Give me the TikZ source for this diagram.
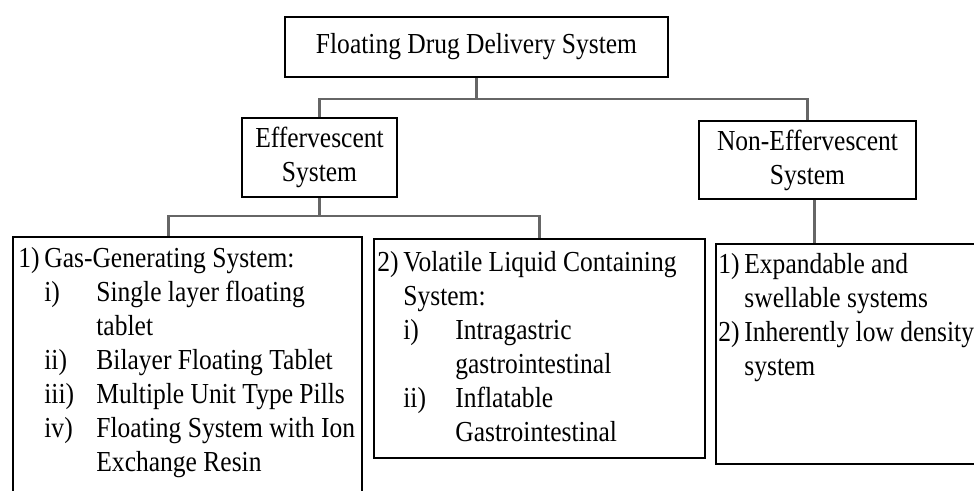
\documentclass[tikz,border=0pt]{standalone}
\usepackage{fontspec}
\setmainfont[FakeStretch=0.88]{Liberation Serif}
\usepackage{array}
\usetikzlibrary{positioning,calc}

\begin{document}
\begin{tikzpicture}[x=0.5pt, y=-0.5pt, font=\fontsize{14.5}{17}\selectfont]

% Define styles
\tikzstyle{mainbox} = [rectangle, draw=black, line width=1pt, fill=white, inner sep=0pt, align=center, anchor=north west]
\tikzstyle{listbox} = [rectangle, draw=black, line width=1pt, fill=white, inner sep=0pt, anchor=north west]
\tikzstyle{listtext} = [inner sep=0pt, anchor=north west]
\tikzstyle{conn} = [line width=1.1pt, draw=black!60]

\useasboundingbox (0,0) rectangle (974,491);
\clip (0,0) rectangle (974,491);

% TOP
\node (fdds) [mainbox, minimum width=191.5pt, minimum height=30pt] at (284,16) {Floating Drug Delivery System};

% SECOND LEVEL
\node (effer) [mainbox, minimum width=77.5pt, minimum height=39.5pt] at (241,117) {Effervescent\\System};
\node (noneffer) [mainbox, minimum width=108.5pt, minimum height=39pt] at (698,120) {Non-Effervescent\\System};

% LISTS
\node (gasgen) [listbox, minimum width=174.5pt, minimum height=150pt] at (12,236) {};
\node (volatile) [listbox, minimum width=165.5pt, minimum height=109.5pt] at (373,238) {};
\node (nonlist) [listbox, minimum width=150pt, minimum height=110pt] at (715,243) {};

\node (gastxt) [listtext] at ($(gasgen.north west)+(6,7)$) {%
\begin{tabular}{@{}p{13pt}@{}p{26pt}@{}l@{}}
1) & \multicolumn{2}{@{}l@{}}{Gas-Generating System:}\\
 & i) & Single layer floating\\
 & & tablet\\
 & ii) & Bilayer Floating Tablet\\
 & iii) & Multiple Unit Type Pills\\
 & iv) & Floating System with Ion\\
 & & Exchange Resin
\end{tabular}};

\node (voltxt) [listtext] at ($(volatile.north west)+(4,9)$) {%
\begin{tabular}{@{}p{13pt}@{}p{26pt}@{}l@{}}
2) & \multicolumn{2}{@{}l@{}}{Volatile Liquid Containing}\\
 & \multicolumn{2}{@{}l@{}}{System:}\\
 & i) & Intragastric\\
 & & gastrointestinal\\
 & ii) & Inflatable\\
 & & Gastrointestinal
\end{tabular}};

\node (nontxt) [listtext] at ($(nonlist.north west)+(3,6)$) {%
\begin{tabular}{@{}p{13pt}@{}l@{}}
1) & Expandable and\\
 & swellable systems\\
2) & Inherently low density\\
 & system
\end{tabular}};

% Connections
\coordinate (split1) at ($(fdds.south)+(0,21)$);
\draw [conn] (fdds.south) -- (split1) -| (effer.north);
\draw [conn] (split1) -| (noneffer.north);

\coordinate (split2) at ($(effer.south)+(0,18)$);
\coordinate (gasin) at ($(gasgen.north)+(-19,0)$);
\draw [conn] (effer.south) -- (split2) -| (gasin);
\draw [conn] (split2) -| (volatile.north);

\coordinate (nonout) at ($(noneffer.south)+(7,0)$);
\draw [conn] (nonout) -- (nonout |- nonlist.north);

\end{tikzpicture}
\end{document}
